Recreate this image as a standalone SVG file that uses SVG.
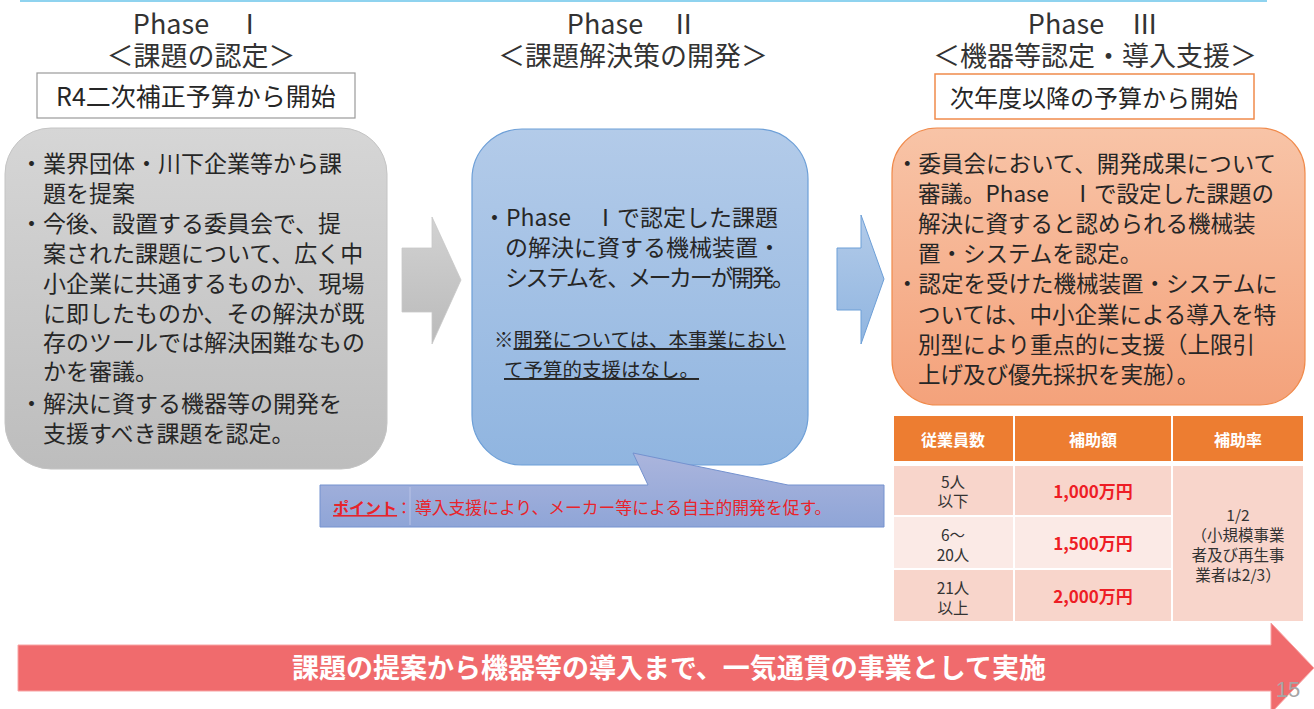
<svg xmlns="http://www.w3.org/2000/svg" width="1314" height="709" viewBox="0 0 1314 709">
<defs>
<linearGradient id="gGray" x1="0" y1="0" x2="0" y2="1"><stop offset="0" stop-color="#d6d6d6"/><stop offset="1" stop-color="#bdbdbd"/></linearGradient>
<linearGradient id="gGrayArrow" x1="0" y1="0" x2="0" y2="1"><stop offset="0" stop-color="#d2d2d2"/><stop offset="1" stop-color="#bababa"/></linearGradient>
<linearGradient id="gBlue" x1="0" y1="0" x2="0" y2="1"><stop offset="0" stop-color="#b3cbe9"/><stop offset="1" stop-color="#90b5e0"/></linearGradient>
<linearGradient id="gCallout" x1="0" y1="0" x2="0" y2="1"><stop offset="0" stop-color="#abb5dd"/><stop offset="1" stop-color="#8fa5d7"/></linearGradient>
<linearGradient id="gOrange" x1="0" y1="0" x2="0" y2="1"><stop offset="0" stop-color="#f8c4a7"/><stop offset="1" stop-color="#f4a27b"/></linearGradient>
<style>
text{font-family:"Noto Sans CJK JP","Noto Sans",sans-serif;fill:#262626}
.title{font-size:27px;text-anchor:middle;fill:#333}
.sub{font-size:25px;text-anchor:middle}
.body{font-size:23px}
.obody{font-size:22.5px}
.note{font-size:19.5px}
.th{font-size:16px;font-weight:bold;fill:#fff;text-anchor:middle}
.td{font-size:15.5px;text-anchor:middle;fill:#333}
.amt{font-size:17px;font-weight:bold;fill:#ee1d25;text-anchor:middle}
.red{font-size:16.8px;fill:#e8242b}
.banner{font-size:27px;font-weight:bold;fill:#fff;text-anchor:middle}
</style>
</defs>
<line x1="20" y1="1" x2="1267" y2="1" stroke="#8fd3ef" stroke-width="2"/>

<g id="phase1-header">
<text class="title" x="198" y="34">Phase　Ⅰ</text>
<text class="title" x="201" y="66">＜課題の認定＞</text>
<rect x="37" y="73" width="318" height="45" fill="#fff" stroke="#9a9a9a" stroke-width="1.2"/>
<text class="sub" x="196" y="106">R4二次補正予算から開始</text>
</g>

<g id="phase2-header">
<text class="title" x="632" y="34">Phase　Ⅱ</text>
<text class="title" x="633" y="66">＜課題解決策の開発＞</text>
</g>

<g id="phase3-header">
<text class="title" x="1093" y="34">Phase　Ⅲ</text>
<text class="title" x="1095" y="66">＜機器等認定・導入支援＞</text>
<rect x="935" y="74" width="319" height="45" fill="#fff" stroke="#f08a4b" stroke-width="1.5"/>
<text class="sub" x="1094" y="107" style="font-size:24px">次年度以降の予算から開始</text>
</g>

<g id="phase1-box">
<rect x="5" y="128" width="382" height="341" rx="46" fill="url(#gGray)" stroke="#c4c4c4" stroke-width="1"/>
<text class="body">
<tspan x="20" y="172">・業界団体・川下企業等から課</tspan>
<tspan x="43" y="202">題を提案</tspan>
<tspan x="20" y="232">・今後、設置する委員会で、提</tspan>
<tspan x="43" y="262">案された課題について、広く中</tspan>
<tspan x="43" y="292">小企業に共通するものか、現場</tspan>
<tspan x="43" y="322">に即したものか、その解決が既</tspan>
<tspan x="43" y="351">存のツールでは解決困難なもの</tspan>
<tspan x="43" y="380">かを審議。</tspan>
<tspan x="20" y="412">・解決に資する機器等の開発を</tspan>
<tspan x="43" y="442">支援すべき課題を認定。</tspan>
</text>
</g>

<g id="phase2-box">
<rect x="472" y="129" width="336" height="336" rx="50" fill="url(#gBlue)" stroke="#6d9fd7" stroke-width="1.2"/>
<text class="body">
<tspan x="483" y="226">・Phase　Ⅰで認定した課題</tspan>
<tspan x="505" y="256">の解決に資する機械装置・</tspan>
<tspan x="505" y="286" letter-spacing="-2.4">システムを、メーカーが開発。</tspan>
</text>
<text class="note">
<tspan x="494" y="347">※<tspan text-decoration="underline">開発については、本事業におい</tspan></tspan>
<tspan x="504" y="377" text-decoration="underline">て予算的支援はなし。</tspan>
</text>
</g>

<g id="phase3-box">
<rect x="892" y="128" width="413" height="277" rx="45" fill="url(#gOrange)" stroke="#f08a4b" stroke-width="1.2"/>
<text class="obody">
<tspan x="896" y="172">・委員会において、開発成果について</tspan>
<tspan x="918" y="202">審議。Phase　Ⅰで設定した課題の</tspan>
<tspan x="918" y="232">解決に資すると認められる機械装</tspan>
<tspan x="918" y="262">置・システムを認定。</tspan>
<tspan x="896" y="292">・認定を受けた機械装置・システムに</tspan>
<tspan x="918" y="323">ついては、中小企業による導入を特</tspan>
<tspan x="918" y="353">別型により重点的に支援（上限引</tspan>
<tspan x="918" y="383">上げ及び優先採択を実施）。</tspan>
</text>
</g>

<g id="callout">
<path d="M320,485 L648,485 L633,453 L788,485 L884,485 L884,527 L320,527 Z" fill="url(#gCallout)" stroke="#7492cf" stroke-width="1"/>
<line x1="410" y1="487" x2="410" y2="525" stroke="#b9c3e6" stroke-width="1"/>
<text x="333" y="514" style="font-size:16px;font-weight:bold;fill:#e8242b" text-decoration="underline">ポイント</text>
<text x="396" y="514" style="font-size:16px;fill:#e8242b">：</text>
<text class="red" x="415" y="514">導入支援により、メーカー等による自主的開発を促す。</text>
</g>

<g id="table">
<rect x="894" y="416" width="119" height="45" fill="#ed7d31"/>
<rect x="1015" y="416" width="156" height="45" fill="#ed7d31"/>
<rect x="1173" y="416" width="130" height="45" fill="#ed7d31"/>
<text class="th" x="953" y="446">従業員数</text>
<text class="th" x="1093" y="446">補助額</text>
<text class="th" x="1238" y="446">補助率</text>
<rect x="894" y="466" width="119" height="49" fill="#f8d5cb"/>
<rect x="1015" y="466" width="156" height="49" fill="#f8d5cb"/>
<rect x="894" y="517" width="119" height="51" fill="#fbeae6"/>
<rect x="1015" y="517" width="156" height="51" fill="#fbeae6"/>
<rect x="894" y="570" width="119" height="51" fill="#f8d5cb"/>
<rect x="1015" y="570" width="156" height="51" fill="#f8d5cb"/>
<rect x="1173" y="466" width="130" height="155" fill="#f8d5cb"/>
<text class="td" x="953" y="488">5人</text>
<text class="td" x="953" y="507">以下</text>
<text class="amt" x="1093" y="498">1,000万円</text>
<text class="td" x="953" y="541">6～</text>
<text class="td" x="953" y="561">20人</text>
<text class="amt" x="1093" y="550">1,500万円</text>
<text class="td" x="953" y="594">21人</text>
<text class="td" x="953" y="614">以上</text>
<text class="amt" x="1093" y="603">2,000万円</text>
<text class="td" x="1238" y="521">1/2</text>
<text class="td" x="1238" y="541">（小規模事業</text>
<text class="td" x="1238" y="561">者及び再生事</text>
<text class="td" x="1238" y="581">業者は2/3）</text>
</g>

<g id="connectors">
<path d="M402,248 L432,248 L432,217 L461,280 L432,344 L432,312 L402,312 Z" fill="url(#gGrayArrow)" stroke="#c8c8c8" stroke-width="0.8"/>
<path d="M837,248 L861,248 L861,215 L884,279 L861,344 L861,310 L837,310 Z" fill="url(#gBlue)" stroke="#6d9fd7" stroke-width="1"/>
</g>

<g id="banner">
<path d="M18,645 L1271,645 L1271,623 L1314,668 L1271,713 L1271,691 L18,691 Z" fill="#f06b6d" stroke="#f8a4a4" stroke-width="1"/>
<text class="banner" x="669" y="678">課題の提案から機器等の導入まで、一気通貫の事業として実施</text>
</g>
<text x="1288" y="697" style="font-size:22px;fill:#a6a6a6;text-anchor:middle;font-family:'Liberation Sans',sans-serif">15</text>
</svg>
